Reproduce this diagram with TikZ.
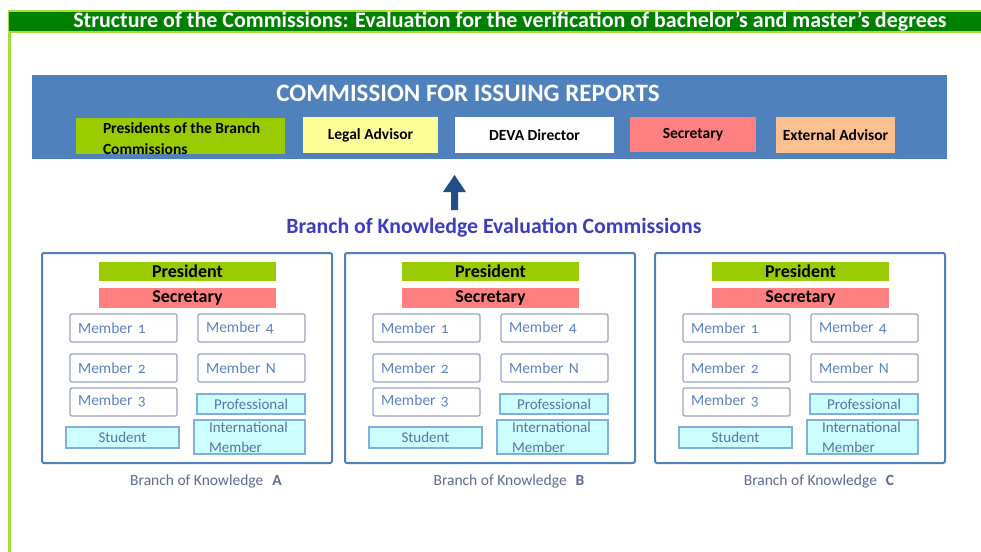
\documentclass[tikz,border=0pt]{standalone}
\usepackage{fontspec}
\setmainfont{Carlito}
\newfontfamily\oldnum{Carlito}[Numbers=OldStyle]

\definecolor{titlegreen}{RGB}{0,128,0}
\definecolor{framegreen}{RGB}{170,220,60}
\definecolor{commblue}{RGB}{79,129,189}
\definecolor{presgreen}{RGB}{153,204,0}
\definecolor{legalyellow}{RGB}{255,255,153}
\definecolor{secred}{RGB}{255,128,128}
\definecolor{extpeach}{RGB}{250,192,144}
\definecolor{arrowblue}{RGB}{33,78,135}
\definecolor{branchborder}{RGB}{79,129,189}
\definecolor{memberline}{RGB}{150,165,190}
\definecolor{membertext}{RGB}{95,130,195}
\definecolor{cyanfill}{RGB}{204,255,255}
\definecolor{cyanline}{RGB}{130,175,215}
\definecolor{cyantext}{RGB}{90,115,160}
\definecolor{labeltext}{RGB}{95,105,150}
\definecolor{evaltext}{RGB}{60,62,190}

\newcommand{\fsz}[1]{\fontsize{#1}{#1}\selectfont}

\begin{document}
\begin{tikzpicture}[x=1pt,y=-1pt,
  topbox/.style={draw=none, inner sep=0pt, minimum height=36pt,
    font=\fsz{15.5}\bfseries, text=black},
  branchbox/.style={draw=branchborder, line width=2pt, rounded corners=2pt,
    fill=white, inner sep=0pt, minimum width=290pt, minimum height=210pt},
  headbar/.style={inner sep=0pt, minimum width=177pt, minimum height=19pt,
    font=\fsz{18}\bfseries, text=black},
  mbox/.style={draw=memberline, line width=1.2pt, rounded corners=2pt,
    fill=white, text=membertext, font=\fsz{15.5}\oldnum, inner xsep=8pt,
    inner ysep=0pt, text width=91pt, minimum height=28pt, align=left},
  cbox/.style={draw=cyanline, line width=1.2pt, fill=cyanfill,
    text=cyantext, font=\fsz{15}, inner sep=0pt, align=center},
  brlabel/.style={text=labeltext, font=\fsz{15.5}, inner sep=0pt}
]
% canvas
\fill[white] (0,0) rectangle (981,551);
\useasboundingbox (0,0) rectangle (981,551);

% title banner and frame line
\draw[framegreen, line width=1.5pt, fill=titlegreen] (8.5,11) rectangle (983,32);
\draw[framegreen, line width=2.5pt] (9.5,32) -- (9.5,552);
\node[text=white, font=\fsz{22}\bfseries, inner sep=0pt] (title) at (510,21.5)
  {Structure of the Commissions: Evaluation for the verification of bachelor’s and master’s degrees};

% commission for issuing reports
\node[fill=commblue, inner sep=0pt, minimum width=915pt, minimum height=84pt]
  (comm) at (489.5,117) {};
\node[text=white, font=\fsz{25}\bfseries, inner sep=0pt] (commtitle) at (468,93)
  {COMMISSION FOR ISSUING REPORTS};
\node[topbox, fill=presgreen, minimum width=209pt] (presbr) at (180.5,136) {};
\node[anchor=west, align=left, font=\fontsize{15.5}{21}\selectfont\bfseries,
  inner sep=0pt, text=black] (presbrtext) at ([xshift=27pt,yshift=-3pt]presbr.west)
  {Presidents of the Branch\\Commissions};
\node[topbox, fill=legalyellow, minimum width=135pt] (legal) at (370.5,135) {Legal Advisor};
\node[topbox, fill=white, minimum width=159pt] (deva) at (534.5,135) {DEVA Director};
\node[topbox, fill=secred, minimum width=126pt, minimum height=35pt] (sec) at (693,134.5)
  {\raisebox{2.5pt}{Secretary}};
\node[topbox, fill=extpeach, minimum width=119pt] (ext) at (835.5,135) {External Advisor};

% upward block arrow
\coordinate (arrtip) at (454.5,175);
\fill[arrowblue] (arrtip) -- ++(11.5,17) -- ++(-8,0) -- ++(0,18) -- ++(-7,0)
  -- ++(0,-18) -- ++(-8,0) -- cycle;

\node[text=evaltext, font=\fsz{21.8}\bfseries, inner sep=0pt] (evalcomm) at (494,228)
  {Branch of Knowledge Evaluation Commissions};

% three branch commissions
\foreach \b/\xo in {A/42,B/345,C/655}{
  \begin{scope}[shift={(\xo,0)}]
    \node[branchbox] (box\b) at (145,358) {};
    \node[headbar, fill=presgreen] (pres\b) at (145.5,271.5) {President};
    \node[headbar, fill=secred, minimum height=20pt] (secr\b) at (145.5,298) {Secretary};
    \node[mbox] (mone\b) at (81.5,328) {Member 1};
    \node[mbox] (mfour\b) at (209.5,328) {Member 4};
    \node[mbox] (mtwo\b) at (81.5,368) {Member 2};
    \node[mbox] (mN\b) at (209.5,368) {Member N};
    \node[mbox] (mthree\b) at (81.5,402) {\raisebox{3pt}{Member 3}};
    \node[cbox, minimum width=108pt, minimum height=20pt] (prof\b) at (209,404) {Professional};
    \node[cbox, minimum width=113pt, minimum height=21pt] (stud\b) at (80.5,437.5) {Student};
    \node[cbox, minimum width=111pt, minimum height=34pt, align=left,
      text width=81pt, inner xsep=15pt, font=\fontsize{15}{20}\selectfont]
      (intl\b) at (207.5,437) {International\\Member};
    \node[brlabel] (lab\b) at (164,481)
      {Branch of Knowledge\hspace{9pt}{\bfseries\fsz{15.5}\b}};
  \end{scope}
}
\end{tikzpicture}
\end{document}
